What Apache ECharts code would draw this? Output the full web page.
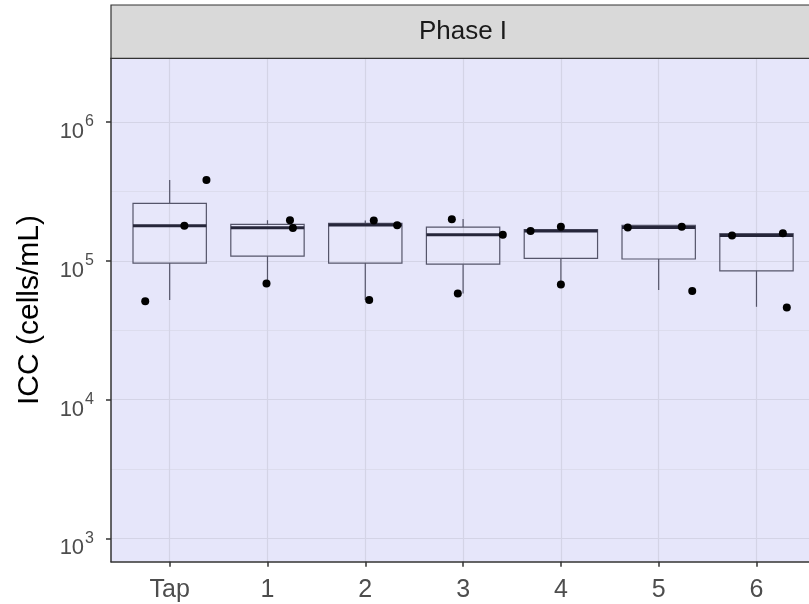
<!DOCTYPE html>
<html><head><meta charset="utf-8">
<script src="https://cdn.jsdelivr.net/npm/echarts@6/dist/echarts.min.js"></script>
<style>html,body{margin:0;padding:0;background:#fff}#c{width:809px;height:604px}</style>
</head><body><div id="c"></div>
<script>
// ---- data ----
const categories = ['Tap', '1', '2', '3', '4', '5', '6'];
const stripLabel = 'Phase I';
const yTitle = 'ICC (cells/mL)';
const yTickValues = [1e3, 1e4, 1e5, 1e6];
const yMinorValues = [3162.28, 31622.8, 316228];
// box statistics per category (cells/mL)
const boxMin    = [5.21e4, 6.87e4, 5.21e4, 5.82e4, 6.76e4, 6.15e4, 4.66e4];
const boxQ1     = [9.63e4, 1.08e5, 9.63e4, 9.46e4, 1.04e5, 1.03e5, 8.47e4];
const boxMedian = [1.79e5, 1.73e5, 1.81e5, 1.54e5, 1.64e5, 1.74e5, 1.52e5];
const boxQ3     = [2.59e5, 1.83e5, 1.86e5, 1.75e5, 1.68e5, 1.80e5, 1.57e5];
const boxMax    = [3.82e5, 1.96e5, 1.95e5, 2.00e5, 1.76e5, 1.81e5, 1.59e5];
// individual observations: category index, horizontal jitter, value
const pointGroup  = [0, 0, 0, 1, 1, 1, 2, 2, 2, 3, 3, 3, 4, 4, 4, 5, 5, 5, 6, 6, 6];
const pointJitter = [0.376, 0.15, -0.25, 0.23, 0.26, -0.01, 0.087, 0.326, 0.04, -0.115, 0.406, -0.054, -0.31, 0.0, 0.0, -0.316, 0.236, 0.343, -0.25, 0.27, 0.31];
const pointValue  = [3.82e5, 1.79e5, 5.12e4, 1.96e5, 1.72e5, 6.87e4, 1.95e5, 1.80e5, 5.21e4, 1.99e5, 1.54e5, 5.82e4, 1.64e5, 1.76e5, 6.76e4, 1.74e5, 1.76e5, 6.05e4, 1.52e5, 1.58e5, 4.60e4];

// ---- chart ----
const FONT = '"Liberation Sans", Arial, sans-serif';
const GRID = {left: 111, top: 58.3, width: 698, height: 503.4};
const xMin = -0.6, xMax = 6.537;   // panel continues past the right edge of the image
const yMin = 678, yMax = 2.88e6;

const boxData = categories.map((c, i) => [i, boxMin[i], boxQ1[i], boxMedian[i], boxQ3[i], boxMax[i]]);
const pointData = pointGroup.map((g, i) => [g + pointJitter[i], pointValue[i]]);

const chart = echarts.init(document.getElementById('c'), null, {renderer: 'canvas'});
chart.setOption({
  animation: false,
  backgroundColor: '#ffffff',
  textStyle: {fontFamily: FONT},
  grid: Object.assign({backgroundColor: '#E6E6FA', show: true, borderWidth: 0}, GRID),
  graphic: [
    {type: 'rect', shape: {x: GRID.left, y: 5, width: GRID.width + 10, height: GRID.top - 5},
     style: {fill: '#D9D9D9', stroke: '#333333', lineWidth: 1.2}, z: 10},
    {type: 'text', x: GRID.left + 352, y: (5 + GRID.top) / 2,
     style: {text: stripLabel, fontSize: 26, fontFamily: FONT, fill: '#1A1A1A', align: 'center', verticalAlign: 'middle'}, z: 11}
  ],
  xAxis: {
    type: 'value', min: xMin, max: xMax,
    axisLine: {show: true, onZero: false, lineStyle: {color: '#333333', width: 1.5}},
    axisTick: {show: true, customValues: categories.map((c, i) => i), length: 5, lineStyle: {color: '#333333', width: 1.5}},
    axisLabel: {customValues: categories.map((c, i) => i), formatter: v => categories[Math.round(v)],
      fontSize: 25, color: '#4D4D4D', margin: 16, fontFamily: FONT},
    splitLine: {show: true, lineStyle: {color: '#D4D4E6', width: 1.2}}
  },
  yAxis: [{
    type: 'log', logBase: 10, min: yMin, max: yMax,
    name: yTitle, nameLocation: 'middle', nameGap: 66,
    nameTextStyle: {fontSize: 30, color: '#000000', fontFamily: FONT},
    axisLine: {show: true, onZero: false, lineStyle: {color: '#333333', width: 1.5}},
    axisTick: {show: true, customValues: yTickValues, length: 5, lineStyle: {color: '#333333', width: 1.5}},
    axisLabel: {customValues: yTickValues, margin: 17, padding: [12, 0, 0, 0],
      formatter: v => '{b|10}{s|' + Math.round(Math.log10(v)) + '}',
      rich: {
        b: {fontSize: 22, color: '#4D4D4D', fontFamily: FONT, lineHeight: 30, verticalAlign: 'bottom', padding: [18, 0, 0, 0]},
        s: {fontSize: 16, color: '#4D4D4D', fontFamily: FONT, lineHeight: 16, verticalAlign: 'bottom', padding: [0, 0, 13, 1]}
      }},
    splitLine: {show: true, lineStyle: {color: '#D4D4E6', width: 1.2}}
  }, {
    type: 'log', logBase: 10, min: yMin, max: yMax,
    axisLine: {show: false}, axisLabel: {show: false},
    axisTick: {show: false, customValues: yMinorValues},
    splitLine: {show: true, lineStyle: {color: '#D9D9EA', width: 0.8}}
  }],
  series: [{
    type: 'custom', z: 3,
    renderItem: function (params, api) {
      const x = api.value(0);
      const pMin = api.coord([x, api.value(1)]);
      const pQ1 = api.coord([x, api.value(2)]);
      const pMed = api.coord([x, api.value(3)]);
      const pQ3 = api.coord([x, api.value(4)]);
      const pMax = api.coord([x, api.value(5)]);
      const left = api.coord([x - 0.375, api.value(3)])[0];
      const right = api.coord([x + 0.375, api.value(3)])[0];
      const cx = pMed[0];
      const stroke = '#55556A';
      return {type: 'group', children: [
        {type: 'line', shape: {x1: cx, y1: pQ3[1], x2: cx, y2: pMax[1]}, style: {stroke: stroke, lineWidth: 1.2}},
        {type: 'line', shape: {x1: cx, y1: pQ1[1], x2: cx, y2: pMin[1]}, style: {stroke: stroke, lineWidth: 1.2}},
        {type: 'rect', shape: {x: left, y: pQ3[1], width: right - left, height: pQ1[1] - pQ3[1]},
         style: {fill: 'rgba(255,255,255,0.05)', stroke: stroke, lineWidth: 1.2}},
        {type: 'line', shape: {x1: left, y1: pMed[1], x2: right, y2: pMed[1]}, style: {stroke: '#26263A', lineWidth: 3}}
      ]};
    },
    encode: {x: 0, y: [1, 2, 3, 4, 5]},
    data: boxData
  }, {
    type: 'scatter', z: 5, symbol: 'circle', symbolSize: 8,
    itemStyle: {color: '#000000', opacity: 1},
    data: pointData
  }]
});
</script></body></html>
